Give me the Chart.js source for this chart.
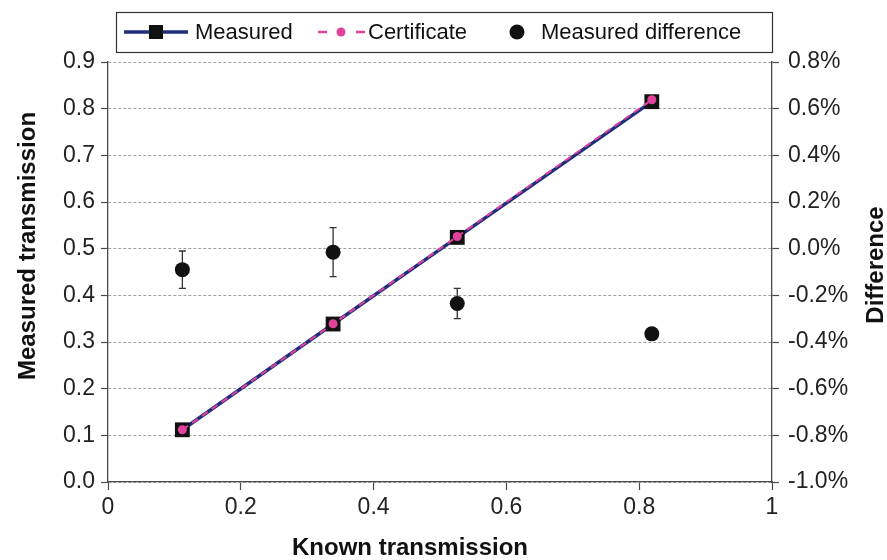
<!DOCTYPE html>
<html>
<head>
<meta charset="utf-8">
<title>Measured vs known transmission</title>
<script src="https://cdn.jsdelivr.net/npm/chart.js@4/dist/chart.umd.min.js"></script>
<style>
  html, body { margin: 0; padding: 0; background: #fff; }
  #myChart { display: block; }
</style>
</head>
<body>
<canvas id="myChart" width="887" height="560"></canvas>
<script>
const known = [0.112, 0.339, 0.526, 0.819];
const measured = [0.1119, 0.3385, 0.5242, 0.815];
const certificate = [0.112, 0.339, 0.526, 0.819];
const difference = [-0.09, -0.015, -0.235, -0.365];
const differenceError = [0.08, 0.105, 0.065, 0.018];

const FONT = "'Liberation Sans', Arial, sans-serif";
const NAVY = "#1f2d7d";
const PINK = "#e0439c";
const AXIS = "#4a4a4a";

const toPoints = (xs, ys) => xs.map((x, i) => ({ x: x, y: ys[i] }));

// error bars for the difference series, drawn under the dots
const errorBars = {
  id: "errorBars",
  beforeDatasetDraw(chart, args) {
    if (args.index !== 2) return;
    const ctx = chart.ctx;
    const x = chart.scales.x;
    const y1 = chart.scales.y1;
    ctx.save();
    ctx.strokeStyle = "#333";
    ctx.lineWidth = 1.3;
    known.forEach((k, i) => {
      const px = x.getPixelForValue(k);
      const top = y1.getPixelForValue(difference[i] + differenceError[i]);
      const bot = y1.getPixelForValue(difference[i] - differenceError[i]);
      ctx.beginPath();
      ctx.moveTo(px, top);
      ctx.lineTo(px, bot);
      ctx.moveTo(px - 3.5, top);
      ctx.lineTo(px + 3.5, top);
      ctx.moveTo(px - 3.5, bot);
      ctx.lineTo(px + 3.5, bot);
      ctx.stroke();
    });
    ctx.restore();
  },
};

// boxed legend on top and the three axis titles
const extras = {
  id: "extras",
  afterDraw(chart) {
    const ctx = chart.ctx;
    const area = chart.chartArea;
    const left = area.left + 8;
    const top = 12;
    const h = 40;
    const cy = top + h / 2;
    ctx.save();
    ctx.fillStyle = "#fff";
    ctx.fillRect(left, top, area.right - left, h);
    ctx.strokeStyle = "#333";
    ctx.lineWidth = 1.2;
    ctx.strokeRect(left + 0.5, top + 0.5, area.right - left, h);

    ctx.font = "22px " + FONT;
    ctx.fillStyle = "#111";
    ctx.textBaseline = "middle";
    const ds = chart.data.datasets;

    // Measured
    let x = left + 8;
    ctx.strokeStyle = NAVY;
    ctx.lineWidth = 3.5;
    ctx.beginPath();
    ctx.moveTo(x, cy);
    ctx.lineTo(x + 64, cy);
    ctx.stroke();
    ctx.fillStyle = "#111";
    ctx.fillRect(x + 32 - 7, cy - 7, 14, 14);
    ctx.fillText(ds[0].label, x + 71, cy + 1);

    // Certificate
    x = left + 202;
    ctx.strokeStyle = PINK;
    ctx.lineWidth = 2.5;
    ctx.beginPath();
    ctx.moveTo(x, cy);
    ctx.lineTo(x + 9, cy);
    ctx.moveTo(x + 38, cy);
    ctx.lineTo(x + 47, cy);
    ctx.stroke();
    ctx.fillStyle = PINK;
    ctx.beginPath();
    ctx.arc(x + 23, cy, 4.5, 0, Math.PI * 2);
    ctx.fill();
    ctx.fillStyle = "#111";
    ctx.fillText(ds[1].label, x + 50, cy + 1);

    // Measured difference
    x = left + 401;
    ctx.beginPath();
    ctx.arc(x, cy, 7.5, 0, Math.PI * 2);
    ctx.fill();
    ctx.fillText(ds[2].label, x + 24, cy + 1);

    // axis titles
    ctx.font = "bold 24px " + FONT;
    ctx.textAlign = "center";
    ctx.fillText("Known transmission", 410, 548);

    ctx.save();
    ctx.translate(28, 246);
    ctx.rotate(-Math.PI / 2);
    ctx.fillText("Measured transmission", 0, 0);
    ctx.restore();

    ctx.translate(876, 265);
    ctx.rotate(-Math.PI / 2);
    ctx.fillText("Difference", 0, 0);
    ctx.restore();
  },
};

const tickFont = { family: FONT, size: 23 };

const config = {
  type: "scatter",
  data: {
    datasets: [
      {
        label: "Measured",
        data: toPoints(known, measured),
        yAxisID: "y",
        showLine: true,
        borderColor: NAVY,
        borderWidth: 3.5,
        pointStyle: "rect",
        pointRadius: 10.5,
        pointBackgroundColor: "#111",
        pointBorderColor: "#111",
        pointBorderWidth: 0,
        order: 2,
      },
      {
        label: "Certificate",
        data: toPoints(known, certificate),
        yAxisID: "y",
        showLine: true,
        borderColor: PINK,
        borderWidth: 2,
        borderDash: [7, 5],
        pointStyle: "circle",
        pointRadius: 4.5,
        pointBackgroundColor: PINK,
        pointBorderColor: PINK,
        pointBorderWidth: 0,
        order: 1,
      },
      {
        label: "Measured difference",
        data: toPoints(known, difference),
        yAxisID: "y1",
        showLine: false,
        pointStyle: "circle",
        pointRadius: 7.5,
        pointBackgroundColor: "#111",
        pointBorderColor: "#111",
        pointBorderWidth: 0,
        order: 3,
      },
    ],
  },
  options: {
    responsive: false,
    animation: false,
    devicePixelRatio: 1,
    layout: { padding: { top: 62, left: 0, right: 0, bottom: 0 } },
    plugins: {
      legend: { display: false },
      tooltip: { enabled: false },
    },
    scales: {
      x: {
        type: "linear",
        min: 0,
        max: 1,
        ticks: {
          stepSize: 0.2,
          color: "#222",
          font: tickFont,
          padding: 4,
          maxRotation: 0,
          callback: (v) => String(+v.toFixed(1)),
        },
        grid: {
          drawOnChartArea: false,
          drawTicks: true,
          tickLength: 8,
          tickColor: AXIS,
          tickWidth: 1.2,
        },
        border: { display: true, color: AXIS, width: 1.3 },
        afterFit: (scale) => { scale.height = 78; },
      },
      y: {
        type: "linear",
        position: "left",
        min: 0,
        max: 0.9,
        ticks: {
          stepSize: 0.1,
          color: "#222",
          font: tickFont,
          padding: 6,
          callback: (v) => v.toFixed(1),
        },
        grid: {
          color: "#a0a0a0",
          lineWidth: 1,
          tickLength: 7,
          tickColor: AXIS,
          tickWidth: 1.2,
        },
        border: { display: true, color: AXIS, width: 1.3, dash: [3, 2] },
        afterFit: (scale) => { scale.width = 108; },
      },
      y1: {
        type: "linear",
        position: "right",
        min: -1.0,
        max: 0.8,
        ticks: {
          stepSize: 0.2,
          color: "#222",
          font: tickFont,
          padding: 9,
          callback: (v) => v.toFixed(1) + "%",
        },
        grid: {
          drawOnChartArea: false,
          tickLength: 7,
          tickColor: AXIS,
          tickWidth: 1.2,
        },
        border: { display: true, color: AXIS, width: 1.3 },
        afterFit: (scale) => { scale.width = 115; },
      },
    },
  },
  plugins: [errorBars, extras],
};

const myChart = new Chart(document.getElementById("myChart"), config);
</script>
</body>
</html>
